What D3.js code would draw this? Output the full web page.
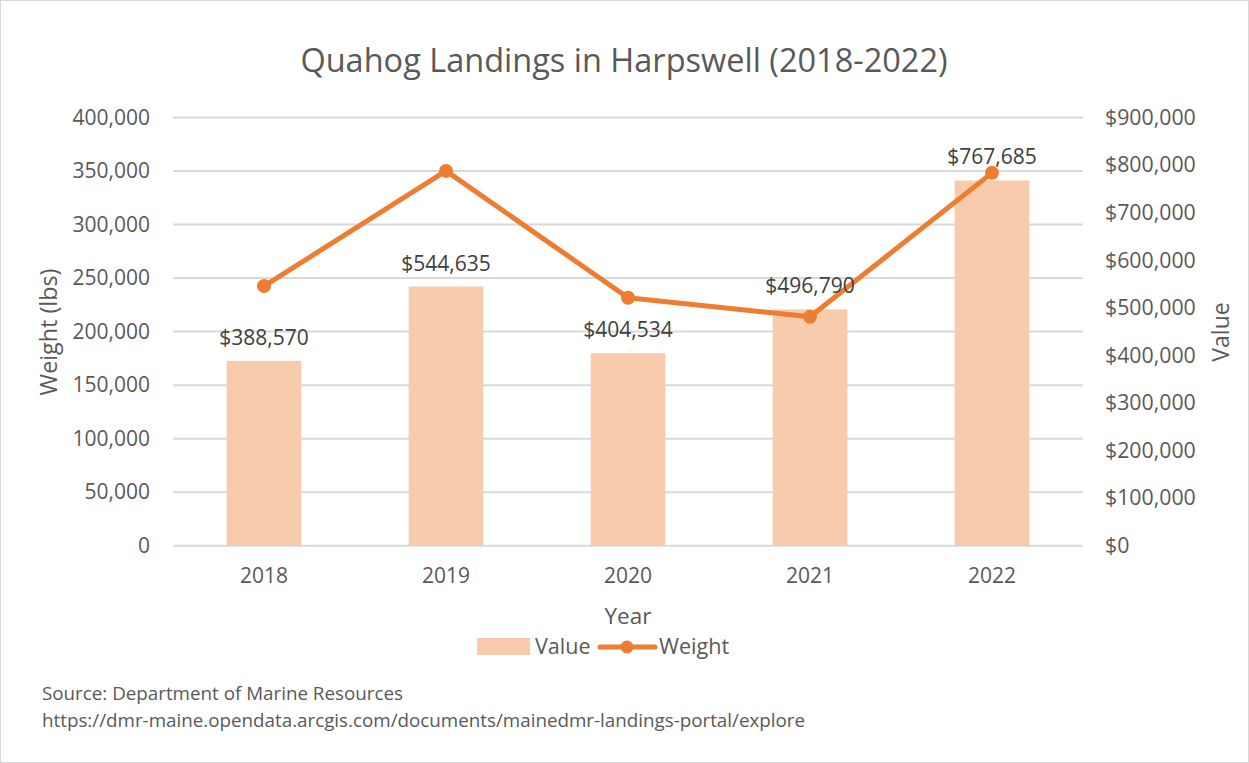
<!DOCTYPE html>
<html><head><meta charset="utf-8">
<script src="https://cdn.jsdelivr.net/npm/d3@7"></script>
<style>
html,body{margin:0;padding:0;background:#fff;}
svg{display:block;font-family:"Open Sans",Lato,sans-serif;}
</style></head>
<body><svg id="c" width="1249" height="763"></svg>
<script>
const years = ["2018","2019","2020","2021","2022"];
const valueDollars = [388570, 544635, 404534, 496790, 767685];
const weightLbs = [242500, 350100, 231600, 213800, 348300];
const leftTicks = [0,50000,100000,150000,200000,250000,300000,350000,400000];
const rightTicks = [0,100000,200000,300000,400000,500000,600000,700000,800000,900000];

const svg = d3.select("#c");
const W = 1249, H = 763;
const M = {l:173, r:1083, t:117.5, b:545.7};
const txt = "#595959";

svg.append("rect").attr("x",0.5).attr("y",0.5).attr("width",W-1).attr("height",H-1)
  .attr("fill","#fff").attr("stroke","#d9d9d9");

const x = d3.scaleBand().domain(years).range([M.l,M.r]).paddingInner(0.59).paddingOuter(0.295);
const yL = d3.scaleLinear().domain([0,400000]).range([M.b,M.t]);
const yR = d3.scaleLinear().domain([0,900000]).range([M.b,M.t]);

// gridlines
svg.append("g").selectAll("line").data(leftTicks).join("line")
  .attr("x1",M.l).attr("x2",M.r).attr("y1",d=>yL(d)).attr("y2",d=>yL(d))
  .attr("stroke","#d9d9d9").attr("stroke-width",2);

// left axis
const fmt = d3.format(",");
const gL = svg.append("g").attr("transform",`translate(${M.l},0)`)
  .call(d3.axisLeft(yL).tickValues(leftTicks).tickFormat(fmt).tickSize(0).tickPadding(23));
gL.select(".domain").remove();
gL.selectAll("text").attr("fill",txt).style("font-size","21px").style("font-family","'Open Sans'");

// right axis
const gR = svg.append("g").attr("transform",`translate(${M.r},0)`)
  .call(d3.axisRight(yR).tickValues(rightTicks).tickFormat(d=>"$"+fmt(d)).tickSize(0).tickPadding(22));
gR.select(".domain").remove();
gR.selectAll("text").attr("fill",txt).style("font-size","21.3px").style("font-family","'Open Sans'");

// x axis
const gX = svg.append("g").attr("transform",`translate(0,${M.b})`)
  .call(d3.axisBottom(x).tickSize(0).tickPadding(22));
gX.select(".domain").remove();
gX.selectAll("text").attr("fill",txt).style("font-size","21px").style("font-family","'Open Sans'");

// bars
svg.append("g").selectAll("rect").data(years).join("rect")
  .attr("x",d=>x(d)).attr("width",x.bandwidth())
  .attr("y",(d,i)=>yR(valueDollars[i])).attr("height",(d,i)=>M.b-yR(valueDollars[i]))
  .attr("fill","#f8cbad");

// line
const line = d3.line().x((d,i)=>x(years[i])+x.bandwidth()/2).y(d=>yL(d));
svg.append("path").datum(weightLbs).attr("d",line).attr("fill","none")
  .attr("stroke","#ed7d31").attr("stroke-width",5).attr("stroke-linejoin","round");
svg.append("g").selectAll("circle").data(weightLbs).join("circle")
  .attr("cx",(d,i)=>x(years[i])+x.bandwidth()/2).attr("cy",d=>yL(d)).attr("r",7)
  .attr("fill","#ed7d31");

// data labels
svg.append("g").selectAll("text").data(valueDollars).join("text")
  .attr("x",(d,i)=>x(years[i])+x.bandwidth()/2).attr("y",d=>yR(d)-16)
  .attr("text-anchor","middle").attr("fill","#404040").style("font-size","21px")
  .text(d=>"$"+fmt(d));

// title
svg.append("text").attr("x",624).attr("y",72).attr("text-anchor","middle")
  .attr("fill",txt).style("font-size","32.5px").text("Quahog Landings in Harpswell (2018-2022)");

// axis titles
svg.append("text").attr("transform","translate(57,332) rotate(-90)").attr("text-anchor","middle")
  .attr("fill",txt).style("font-size","23.3px").text("Weight (lbs)");
svg.append("text").attr("transform","translate(1229,332) rotate(-90)").attr("text-anchor","middle")
  .attr("fill",txt).style("font-size","23px").text("Value");
svg.append("text").attr("x",628).attr("y",624).attr("text-anchor","middle")
  .attr("fill",txt).style("font-size","22.5px").text("Year");

// legend
const lg = svg.append("g");
lg.append("rect").attr("x",477).attr("y",638).attr("width",53).attr("height",17).attr("fill","#f8cbad");
lg.append("text").attr("x",535).attr("y",654).attr("fill",txt).style("font-size","21.5px").text("Value");
lg.append("line").attr("x1",600).attr("x2",655).attr("y1",647).attr("y2",647)
  .attr("stroke","#ed7d31").attr("stroke-width",5).attr("stroke-linecap","round");
lg.append("circle").attr("cx",627).attr("cy",647).attr("r",6.5).attr("fill","#ed7d31");
lg.append("text").attr("x",659).attr("y",654).attr("fill",txt).style("font-size","21.6px").text("Weight");

// source
svg.append("text").attr("x",42).attr("y",700).attr("fill",txt).style("font-size","18.8px")
  .text("Source: Department of Marine Resources");
svg.append("text").attr("x",42).attr("y",727).attr("fill",txt).style("font-size","18.8px")
  .text("https://dmr-maine.opendata.arcgis.com/documents/mainedmr-landings-portal/explore");
</script></body></html>
